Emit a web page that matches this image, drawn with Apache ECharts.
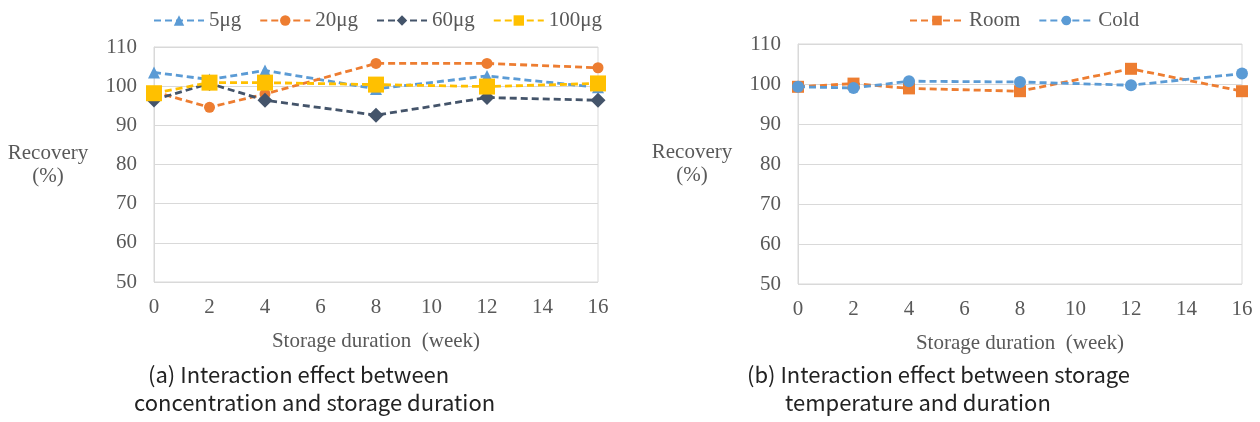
<!DOCTYPE html>
<html>
<head>
<meta charset="utf-8">
<script src="https://cdn.jsdelivr.net/npm/echarts@6/dist/echarts.min.js"></script>
<style>
  html, body { margin: 0; padding: 0; background: #fff; }
  #main { width: 1260px; height: 422px; }
</style>
</head>
<body>
<div id="main"></div>
<script>
// 저장 기간 (week)
var weeks = [0, 2, 4, 8, 12, 16];
var xTicks = [0, 2, 4, 6, 8, 10, 12, 14, 16];
var yTicks = [50, 60, 70, 80, 90, 100, 110];

// (a) concentration
var conc5 = [103.5, 101.7, 104.0, 99.3, 102.6, 99.7];
var conc20 = [98.6, 94.6, 98.0, 105.8, 105.8, 104.7];
var conc60 = [96.5, 100.7, 96.4, 92.6, 97.1, 96.4];
var conc100 = [98.2, 100.9, 100.9, 100.4, 99.9, 100.7];

// (b) temperature
var room = [99.3, 100.1, 98.9, 98.2, 103.8, 98.2];
var cold = [99.3, 99.0, 100.7, 100.5, 99.7, 102.6];

function pairs(vals) {
    return weeks.map(function (w, i) { return [w, vals[i]]; });
}

var serif = 'Liberation Serif';
var grey = '#595959';
var lineGrey = '#d9d9d9';

function mkX(idx) {
    return {
        gridIndex: idx, type: 'value',
        min: xTicks[0], max: xTicks[xTicks.length - 1], interval: 2,
        axisLine: { show: false }, axisTick: { show: false },
        splitLine: { show: false },
        axisLabel: { color: grey, fontFamily: serif, fontSize: 21, margin: 15 },
        name: 'Storage duration  (week)', nameLocation: 'middle', nameGap: 49,
        nameTextStyle: { color: grey, fontFamily: serif, fontSize: 21 }
    };
}
function mkY(idx) {
    return {
        gridIndex: idx, type: 'value',
        min: yTicks[0], max: yTicks[yTicks.length - 1], interval: 10,
        axisLine: { show: true, lineStyle: { color: lineGrey } },
        axisTick: { show: false },
        splitLine: { show: true, lineStyle: { color: lineGrey, width: 1 } },
        axisLabel: { color: grey, fontFamily: serif, fontSize: 21, margin: 17 },
        name: 'Recovery\n(%)', nameLocation: 'middle', nameRotate: 0, nameGap: 106,
        nameTextStyle: { color: grey, fontFamily: serif, fontSize: 21, lineHeight: 23, align: 'center' }
    };
}
function mkLine(name, vals, color, symbol, size, idx) {
    return {
        name: name, type: 'line', xAxisIndex: idx, yAxisIndex: idx,
        data: pairs(vals), symbol: symbol, symbolSize: size,
        lineStyle: { color: color, width: 2.8, type: [7, 4] },
        itemStyle: { color: color },
        emphasis: { disabled: true }
    };
}

var chart = echarts.init(document.getElementById('main'));
var option = {
    animation: false,
    grid: [
        { left: 154, top: 47, width: 444, height: 235, show: true, borderColor: lineGrey, borderWidth: 1 },
        { left: 798, top: 44, width: 444, height: 240, show: true, borderColor: lineGrey, borderWidth: 1 }
    ],
    legend: [
        {
            data: ['5μg', '20μg', '60μg', '100μg'], left: 148, top: 5,
            itemWidth: 50, itemHeight: 13, itemGap: 18,
            textStyle: { color: grey, fontFamily: serif, fontSize: 21 }
        },
        {
            data: ['Room', 'Cold'], left: 904, top: 5,
            itemWidth: 54, itemHeight: 12, itemGap: 18,
            textStyle: { color: grey, fontFamily: serif, fontSize: 21 }
        }
    ],
    xAxis: [mkX(0), mkX(1)],
    yAxis: [mkY(0), mkY(1)],
    series: [
        mkLine('5μg', conc5, '#5B9BD5', 'triangle', 12, 0),
        mkLine('20μg', conc20, '#ED7D31', 'circle', 11, 0),
        mkLine('60μg', conc60, '#44546A', 'diamond', 15, 0),
        mkLine('100μg', conc100, '#FFC000', 'rect', 16, 0),
        mkLine('Room', room, '#ED7D31', 'rect', 12, 1),
        mkLine('Cold', cold, '#5B9BD5', 'circle', 12, 1)
    ],
    graphic: [
        { type: 'text', left: 148, top: 364, style: { text: '(a) Interaction effect between', fontFamily: 'Noto Sans CJK KR', fontSize: 22, fill: '#222' } },
        { type: 'text', left: 134, top: 392, style: { text: 'concentration and storage duration', fontFamily: 'Noto Sans CJK KR', fontSize: 22, fill: '#222' } },
        { type: 'text', left: 747, top: 364, style: { text: '(b) Interaction effect between storage', fontFamily: 'Noto Sans CJK KR', fontSize: 22, fill: '#222' } },
        { type: 'text', left: 785, top: 392, style: { text: 'temperature and duration', fontFamily: 'Noto Sans CJK KR', fontSize: 22, fill: '#222' } }
    ]
};
chart.setOption(option);
</script>
</body>
</html>
